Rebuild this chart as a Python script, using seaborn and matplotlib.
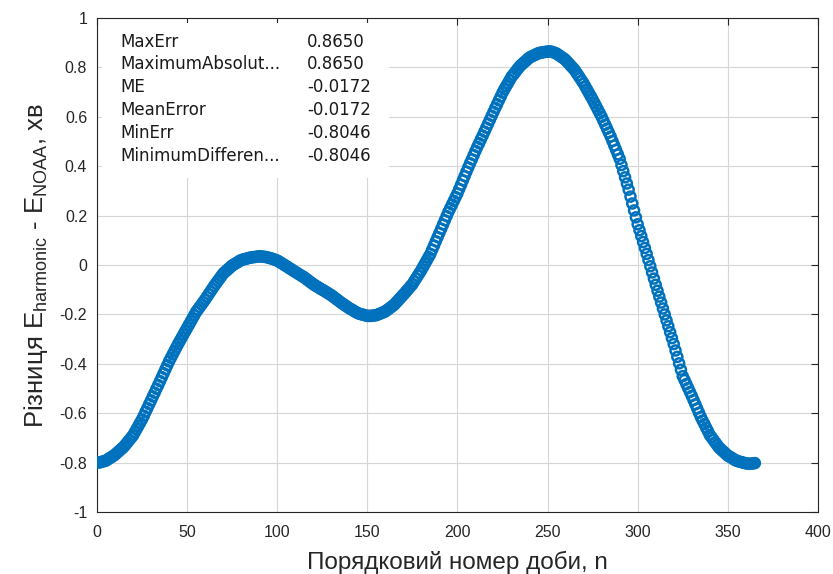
import matplotlib
matplotlib.use("Agg")
import matplotlib.pyplot as plt
from matplotlib.patches import Rectangle
import seaborn as sns
import pandas as pd

# ---- data ----
days = list(range(1, 366))
err = [
    -0.800, -0.798, -0.796, -0.794, -0.792, -0.787, -0.782, -0.778, -0.773, -0.768,
    -0.761, -0.755, -0.748, -0.742, -0.735, -0.726, -0.717, -0.708, -0.699, -0.690,
    -0.677, -0.664, -0.651, -0.638, -0.625, -0.610, -0.594, -0.579, -0.563, -0.548,
    -0.532, -0.517, -0.501, -0.486, -0.470, -0.454, -0.438, -0.422, -0.406, -0.390,
    -0.376, -0.362, -0.348, -0.334, -0.320, -0.307, -0.294, -0.281, -0.268, -0.255,
    -0.242, -0.229, -0.216, -0.203, -0.190, -0.180, -0.170, -0.160, -0.150, -0.140,
    -0.129, -0.118, -0.107, -0.096, -0.085, -0.075, -0.065, -0.055, -0.045, -0.035,
    -0.028, -0.022, -0.015, -0.009, -0.002, 0.002, 0.007, 0.011, 0.016, 0.020,
    0.022, 0.024, 0.026, 0.028, 0.030, 0.031, 0.032, 0.033, 0.034, 0.035,
    0.035, 0.034, 0.033, 0.032, 0.030, 0.028, 0.026, 0.023, 0.021, 0.018,
    0.014, 0.009, 0.005, 0.000, -0.004, -0.009, -0.014, -0.018, -0.023, -0.028,
    -0.032, -0.037, -0.041, -0.046, -0.050, -0.056, -0.061, -0.067, -0.072, -0.078,
    -0.082, -0.087, -0.091, -0.096, -0.100, -0.104, -0.109, -0.113, -0.118, -0.122,
    -0.128, -0.133, -0.139, -0.144, -0.150, -0.155, -0.160, -0.165, -0.170, -0.175,
    -0.179, -0.183, -0.188, -0.192, -0.196, -0.198, -0.200, -0.202, -0.204, -0.206,
    -0.206, -0.206, -0.205, -0.204, -0.203, -0.200, -0.197, -0.194, -0.191, -0.188,
    -0.182, -0.177, -0.171, -0.166, -0.160, -0.152, -0.144, -0.136, -0.128, -0.120,
    -0.112, -0.103, -0.095, -0.086, -0.078, -0.066, -0.055, -0.043, -0.032, -0.020,
    -0.007, 0.006, 0.019, 0.032, 0.045, 0.062, 0.079, 0.096, 0.113, 0.130,
    0.147, 0.164, 0.181, 0.198, 0.215, 0.230, 0.245, 0.260, 0.275, 0.290,
    0.308, 0.325, 0.343, 0.360, 0.378, 0.395, 0.412, 0.428, 0.445, 0.462,
    0.478, 0.493, 0.509, 0.524, 0.540, 0.556, 0.572, 0.588, 0.604, 0.620,
    0.636, 0.651, 0.667, 0.682, 0.698, 0.711, 0.724, 0.736, 0.749, 0.762,
    0.771, 0.780, 0.790, 0.799, 0.808, 0.814, 0.821, 0.827, 0.834, 0.840,
    0.844, 0.847, 0.851, 0.854, 0.858, 0.859, 0.861, 0.862, 0.863, 0.864,
    0.865, 0.864, 0.862, 0.859, 0.856, 0.851, 0.846, 0.841, 0.836, 0.830,
    0.822, 0.814, 0.806, 0.798, 0.790, 0.779, 0.768, 0.757, 0.746, 0.735,
    0.722, 0.709, 0.696, 0.683, 0.670, 0.656, 0.642, 0.628, 0.614, 0.600,
    0.584, 0.568, 0.552, 0.536, 0.520, 0.502, 0.484, 0.466, 0.448, 0.430,
    0.405, 0.380, 0.355, 0.330, 0.305, 0.277, 0.249, 0.221, 0.193, 0.165,
    0.141, 0.117, 0.093, 0.069, 0.045, 0.020, -0.005, -0.030, -0.055, -0.080,
    -0.104, -0.128, -0.152, -0.176, -0.200, -0.224, -0.248, -0.272, -0.296, -0.320,
    -0.346, -0.372, -0.398, -0.424, -0.450, -0.466, -0.482, -0.498, -0.514, -0.530,
    -0.547, -0.564, -0.581, -0.598, -0.615, -0.630, -0.644, -0.659, -0.673, -0.688,
    -0.698, -0.708, -0.718, -0.728, -0.738, -0.745, -0.752, -0.758, -0.765, -0.772,
    -0.776, -0.780, -0.785, -0.789, -0.793, -0.795, -0.797, -0.799, -0.801, -0.803,
    -0.804, -0.805, -0.804, -0.803, -0.802,
]

stat_names = ["MaxErr", "MaximumAbsolut...", "ME", "MeanError", "MinErr", "MinimumDifferen..."]
stat_values = ["0.8650", "0.8650", "-0.0172", "-0.0172", "-0.8046", "-0.8046"]

xticks = [0, 50, 100, 150, 200, 250, 300, 350, 400]
yticks = [-1, -0.8, -0.6, -0.4, -0.2, 0, 0.2, 0.4, 0.6, 0.8, 1]
ytick_labels = ["-1", "-0.8", "-0.6", "-0.4", "-0.2", "0", "0.2", "0.4", "0.6", "0.8", "1"]

xlabel = "Порядковий номер доби, n"
ylabel = r"Різниця E$_{harmonic}$ - E$_{NOAA}$, хв"

# ---- styling ----
sns.set_theme(style="white")
plt.rcParams["font.family"] = ["Liberation Sans", "DejaVu Sans"]
plt.rcParams["mathtext.default"] = "regular"
plt.rcParams["axes.unicode_minus"] = False

dark = "#262626"
blue = "#0072BD"

df = pd.DataFrame({"day": days, "err": err})

fig = plt.figure(figsize=(8.33, 5.74), dpi=100)
ax = fig.add_axes([0.1164, 0.108, 0.8655, 0.8606])

sns.scatterplot(data=df, x="day", y="err", ax=ax, marker="o", s=52,
                facecolors="none", edgecolor=blue, linewidth=1.8,
                legend=False, zorder=3)

ax.set_xlim(0, 400)
ax.set_ylim(-1, 1)
ax.set_xticks(xticks)
ax.set_xticklabels([str(t) for t in xticks])
ax.set_yticks(yticks)
ax.set_yticklabels(ytick_labels)

ax.grid(True, color="#d6d6d6", linewidth=0.8)
ax.set_axisbelow(True)
ax.tick_params(direction="in", top=True, right=True, length=5, width=0.8,
               color=dark, labelcolor=dark, labelsize=11.5)
ax.tick_params(axis="x", pad=9)
ax.tick_params(axis="y", pad=7)
for sp in ax.spines.values():
    sp.set_visible(True)
    sp.set_color(dark)
    sp.set_linewidth(0.8)

# white box behind the statistics text (hides grid)
ax.add_patch(Rectangle((0.007, 0.676), 0.3985, 0.314, transform=ax.transAxes,
                       facecolor="white", edgecolor="none", zorder=1))

row_y = [0.951, 0.907, 0.861, 0.814, 0.768, 0.721]
for yy, name, val in zip(row_y, stat_names, stat_values):
    ax.text(0.032, yy, name, transform=ax.transAxes, ha="left", va="center",
            fontsize=12, family="DejaVu Sans", color="#1a1a1a", zorder=4)
    ax.text(0.291, yy, val, transform=ax.transAxes, ha="left", va="center",
            fontsize=12, family="DejaVu Sans", color="#1a1a1a", zorder=4)

ax.set_xlabel(xlabel, fontsize=17.5, color=dark, labelpad=8)
ax.set_ylabel(ylabel, fontsize=18.5, color=dark, labelpad=7)

fig.savefig("out.png", dpi=100)
